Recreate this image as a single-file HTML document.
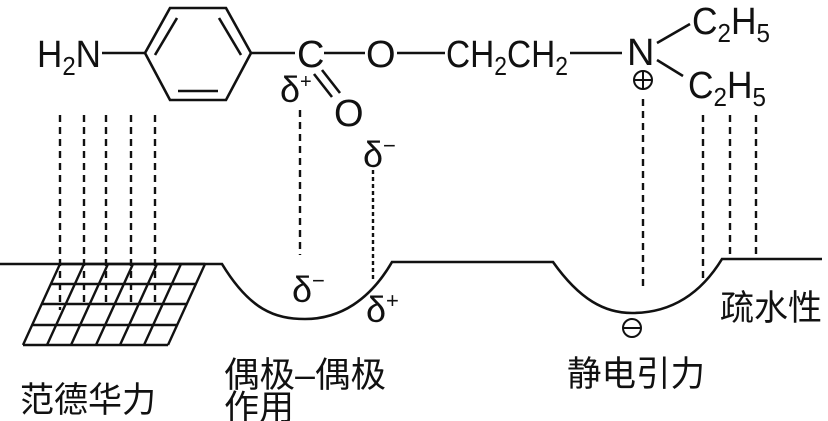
<!DOCTYPE html>
<html><head><meta charset="utf-8"><style>
html,body{margin:0;padding:0;background:#fff;}
svg{display:block}
text{font-family:"Liberation Sans","Noto Sans CJK SC",sans-serif;fill:#111}
.d{font-family:"Liberation Serif",serif}
.c{font-family:"Noto Sans CJK SC","WenQuanYi Zen Hei",sans-serif}
</style></head><body>
<svg width="828" height="421" viewBox="0 0 828 421" xmlns="http://www.w3.org/2000/svg">
<g stroke="#111" stroke-width="2.6" fill="none">
<polygon points="145,53 170,8 226,8 251,53 226,100 170,100"/>
<line x1="177" y1="18" x2="155" y2="55"/>
<line x1="219" y1="18" x2="241" y2="55"/>
<line x1="178" y1="91" x2="218" y2="91"/>
<line x1="102" y1="53" x2="145" y2="53"/>
<line x1="251" y1="53" x2="295" y2="53"/>
<line x1="324" y1="53" x2="365" y2="53"/>
<line x1="314" y1="74" x2="332" y2="97"/>
<line x1="322" y1="70" x2="340" y2="93"/>
<line x1="397" y1="53" x2="445" y2="53"/>
<line x1="570" y1="53" x2="622" y2="53"/>
<line x1="657" y1="43" x2="690" y2="24"/>
<line x1="657" y1="60" x2="683" y2="76"/>
<circle cx="643" cy="80" r="9" stroke-width="2"/>
<line x1="635" y1="80" x2="651" y2="80" stroke-width="2"/>
<line x1="643" y1="72" x2="643" y2="88" stroke-width="2"/>
<circle cx="632" cy="328" r="9" stroke-width="2"/>
<line x1="624" y1="328" x2="640" y2="328" stroke-width="2"/>
<path d="M0,264 L222,264 C250,310 275,319 305,319 C340,319 370,300 392,262 L553,262 C580,300 605,313 632,313 C670,313 700,295 722,259 L822,259"/>
<g stroke-width="2.4">
<line x1="60" y1="264" x2="205" y2="264"/>
<line x1="51" y1="284" x2="196" y2="284"/>
<line x1="42" y1="304" x2="187" y2="304"/>
<line x1="32" y1="325" x2="177" y2="325"/>
<line x1="23" y1="345" x2="168" y2="345"/>
<line x1="60" y1="264" x2="23" y2="345"/>
<line x1="84" y1="264" x2="47" y2="345"/>
<line x1="108" y1="264" x2="71" y2="345"/>
<line x1="133" y1="264" x2="96" y2="345"/>
<line x1="157" y1="264" x2="120" y2="345"/>
<line x1="181" y1="264" x2="144" y2="345"/>
<line x1="205" y1="264" x2="168" y2="345"/>
</g>
<g stroke-width="2.4" stroke-dasharray="7,5">
<line x1="60" y1="115" x2="60" y2="310"/>
<line x1="84" y1="115" x2="84" y2="305"/>
<line x1="106" y1="115" x2="106" y2="305"/>
<line x1="131" y1="115" x2="131" y2="305"/>
<line x1="155" y1="115" x2="155" y2="305"/>
<line x1="300" y1="110" x2="300" y2="255"/>
<line x1="373" y1="170" x2="373" y2="282" stroke-dasharray="4,3"/>
<line x1="643" y1="99" x2="643" y2="290"/>
<line x1="703" y1="115" x2="703" y2="281"/>
<line x1="730" y1="115" x2="730" y2="259"/>
<line x1="756" y1="115" x2="756" y2="259"/>
</g>
</g>
<g font-size="38">
<text x="37" y="67" textLength="64" lengthAdjust="spacingAndGlyphs">H<tspan font-size="26" dy="8">2</tspan><tspan dy="-8">N</tspan></text>
<text x="297" y="67">C</text>
<text x="366" y="67">O</text>
<text x="334" y="126">O</text>
<text x="446" y="67" textLength="122" lengthAdjust="spacingAndGlyphs">CH<tspan font-size="26" dy="8">2</tspan><tspan dy="-8">CH</tspan><tspan font-size="26" dy="8">2</tspan></text>
<text x="627" y="65">N</text>
<text x="692" y="34" textLength="78" lengthAdjust="spacingAndGlyphs">C<tspan font-size="26" dy="8">2</tspan><tspan dy="-8">H</tspan><tspan font-size="26" dy="8">5</tspan></text>
<text x="688" y="98" textLength="78" lengthAdjust="spacingAndGlyphs">C<tspan font-size="26" dy="8">2</tspan><tspan dy="-8">H</tspan><tspan font-size="26" dy="8">5</tspan></text>
</g>
<g font-size="36" class="d">
<text x="280" y="102">δ<tspan font-size="20" dy="-14">+</tspan></text>
<text x="363" y="167">δ<tspan font-size="22" dy="-14">−</tspan></text>
<text x="292" y="302">δ<tspan font-size="22" dy="-14">−</tspan></text>
<text x="366" y="322">δ<tspan font-size="22" dy="-14">+</tspan></text>
</g>
<g font-size="35" class="c">
<text x="20" y="412" textLength="136" lengthAdjust="spacingAndGlyphs">范德华力</text>
<text x="224" y="387" textLength="162" lengthAdjust="spacingAndGlyphs">偶极–偶极</text>
<text x="224" y="420">作用</text>
<text x="567" y="386" textLength="138" lengthAdjust="spacingAndGlyphs">静电引力</text>
<text x="720" y="320" textLength="102" lengthAdjust="spacingAndGlyphs">疏水性</text>
</g>
</svg>
</body></html>
